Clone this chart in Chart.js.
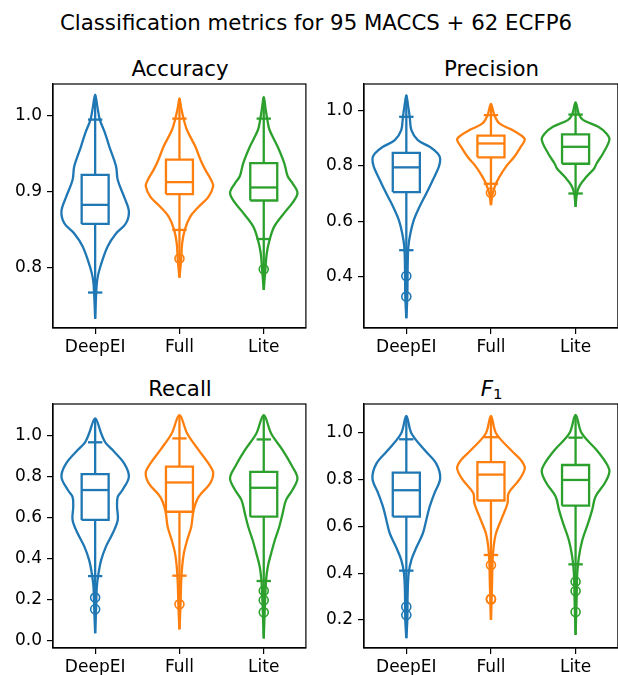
<!DOCTYPE html>
<html>
<head>
<meta charset="utf-8">
<script src="https://cdn.jsdelivr.net/npm/chart.js@4.4.1/dist/chart.umd.min.js"></script>
<style>
body{margin:0;width:618px;height:675px;overflow:hidden;background:#fff;position:relative;font-family:"DejaVu Sans";}
canvas{position:absolute;}
.t{position:absolute;font-size:21.3px;line-height:21.3px;text-align:center;color:#000;white-space:nowrap;}
</style>
</head>
<body>

<div class="t" style="left:0;width:632px;top:12px">Classification metrics for 95 MACCS + 62 ECFP6</div>
<div class="t" style="left:53px;width:254px;top:58px">Accuracy</div>
<div class="t" style="left:364px;width:255px;top:58px">Precision</div>
<div class="t" style="left:53px;width:254px;top:378px">Recall</div>
<div class="t" style="left:364px;width:255px;top:378px"><i>F</i><span style="font-size:0.7em;position:relative;top:0.2em">1</span></div>

<canvas id="acc" width="312" height="301" style="left:0;top:64px"></canvas>
<canvas id="prec" width="313" height="301" style="left:311px;top:64px"></canvas>
<canvas id="rec" width="312" height="301" style="left:0;top:384px"></canvas>
<canvas id="f1" width="313" height="301" style="left:311px;top:384px"></canvas>

<script>
const categories = ["DeepEI", "Full", "Lite"];
const colors = ["#1f77b4", "#ff7f0e", "#2ca02c"];

// accuracy
const accTicks = [0.8, 0.9, 1.0];
const accViolinY = [
  [0.733, 0.766, 0.784, 0.801, 0.828, 0.845, 0.858, 0.874, 0.893, 0.915, 0.933, 0.959, 0.977, 0.994, 1.010, 1.027],
  [0.787, 0.810, 0.832, 0.850, 0.867, 0.880, 0.893, 0.907, 0.915, 0.929, 0.942, 0.959, 0.981, 0.996, 1.010, 1.022],
  [0.771, 0.793, 0.819, 0.836, 0.854, 0.872, 0.885, 0.898, 0.911, 0.920, 0.937, 0.959, 0.981, 0.996, 1.010, 1.024]
];
const accViolinW = [
  [0, 0.03, 0.06, 0.15, 0.37, 0.62, 0.91, 1.0, 0.86, 0.67, 0.62, 0.42, 0.29, 0.14, 0.07, 0],
  [0, 0.05, 0.08, 0.16, 0.32, 0.57, 0.86, 1.0, 0.94, 0.76, 0.62, 0.47, 0.22, 0.12, 0.05, 0],
  [0, 0.04, 0.09, 0.17, 0.31, 0.61, 0.85, 1.0, 0.85, 0.71, 0.61, 0.41, 0.17, 0.10, 0.05, 0]
];
const accBox = [[0.8575, 0.8825, 0.9219], [0.8965, 0.9123, 0.9417], [0.8882, 0.9053, 0.9373]];
const accWhisk = [[0.7675, 0.9943], [0.8496, 0.9956], [0.8377, 0.9956]];
const accOut = [[], [0.812], [0.798]];

// precision
const precTicks = [0.4, 0.6, 0.8, 1.0];
const precViolinY = [
  [0.251, 0.329, 0.436, 0.508, 0.556, 0.604, 0.652, 0.700, 0.748, 0.796, 0.824, 0.844, 0.868, 0.892, 0.928, 0.976, 1.018, 1.054],
  [0.658, 0.700, 0.736, 0.760, 0.796, 0.832, 0.868, 0.894, 0.910, 0.928, 0.952, 0.982, 1.022],
  [0.652, 0.700, 0.730, 0.760, 0.790, 0.808, 0.844, 0.894, 0.916, 0.940, 0.964, 0.984, 1.028]
];
const precViolinW = [
  [0, 0.03, 0.04, 0.06, 0.12, 0.22, 0.39, 0.59, 0.78, 0.96, 1.0, 0.93, 0.69, 0.34, 0.15, 0.10, 0.05, 0],
  [0, 0.05, 0.15, 0.25, 0.44, 0.69, 0.88, 1.0, 0.88, 0.64, 0.25, 0.10, 0],
  [0, 0.04, 0.13, 0.32, 0.55, 0.62, 0.81, 1.0, 0.91, 0.67, 0.23, 0.10, 0]
];
const precBox = [[0.705, 0.794, 0.8465], [0.830, 0.880, 0.908], [0.807, 0.868, 0.9125]];
const precWhisk = [[0.496, 0.976], [0.735, 0.982], [0.700, 0.984]];
const precOut = [[0.403, 0.329], [0.703], []];

// recall
const recTicks = [0.0, 0.2, 0.4, 0.6, 0.8, 1.0];
const recViolinY = [
  [0.036, 0.166, 0.263, 0.329, 0.394, 0.459, 0.524, 0.589, 0.654, 0.702, 0.735, 0.800, 0.865, 0.930, 0.968, 1.011, 1.085],
  [0.055, 0.166, 0.280, 0.361, 0.426, 0.491, 0.556, 0.637, 0.702, 0.768, 0.820, 0.865, 0.930, 1.011, 1.101],
  [0.011, 0.198, 0.296, 0.361, 0.426, 0.491, 0.556, 0.621, 0.686, 0.735, 0.792, 0.849, 0.930, 1.011, 1.101]
];
const recViolinW = [
  [0, 0.03, 0.05, 0.10, 0.18, 0.32, 0.52, 0.67, 0.65, 0.67, 0.81, 1.0, 0.86, 0.52, 0.30, 0.18, 0],
  [0, 0.03, 0.05, 0.08, 0.13, 0.23, 0.35, 0.42, 0.57, 0.91, 1.0, 0.86, 0.57, 0.23, 0],
  [0, 0.04, 0.07, 0.12, 0.22, 0.33, 0.46, 0.56, 0.66, 0.85, 1.0, 0.85, 0.56, 0.22, 0]
];
const recBox = [[0.589, 0.735, 0.813], [0.629, 0.772, 0.849], [0.605, 0.746, 0.824]];
const recWhisk = [[0.315, 0.968], [0.317, 0.987], [0.291, 0.982]];
const recOut = [[0.210, 0.153], [0.177], [0.244, 0.197, 0.138]];

// f1
const f1Ticks = [0.2, 0.4, 0.6, 0.8, 1.0];
const f1ViolinY = [
  [0.122, 0.200, 0.314, 0.400, 0.457, 0.514, 0.571, 0.628, 0.685, 0.742, 0.806, 0.870, 0.927, 0.999, 1.073],
  [0.200, 0.343, 0.457, 0.514, 0.571, 0.642, 0.699, 0.742, 0.799, 0.849, 0.885, 0.927, 0.999, 1.073],
  [0.136, 0.286, 0.400, 0.471, 0.542, 0.614, 0.671, 0.728, 0.785, 0.835, 0.870, 0.927, 0.999, 1.077]
];
const f1ViolinW = [
  [0, 0.03, 0.04, 0.07, 0.15, 0.31, 0.49, 0.59, 0.69, 0.83, 1.0, 0.88, 0.54, 0.15, 0],
  [0, 0.03, 0.05, 0.08, 0.15, 0.34, 0.49, 0.52, 0.83, 1.0, 0.88, 0.59, 0.15, 0],
  [0, 0.03, 0.05, 0.10, 0.20, 0.37, 0.49, 0.59, 0.86, 1.0, 0.91, 0.62, 0.18, 0]
];
const f1Box = [[0.642, 0.755, 0.830], [0.711, 0.822, 0.875], [0.689, 0.799, 0.863]];
const f1Whisk = [[0.411, 0.973], [0.478, 0.982], [0.438, 0.980]];
const f1Out = [[0.257, 0.221], [0.435, 0.291, 0.288], [0.364, 0.324, 0.234]];

Chart.defaults.font.family = "DejaVu Sans";
Chart.defaults.color = "#000";

const VIOLIN_HALF = 0.4, BOX_HALF = 0.16, CAP_HALF = 0.085;

// top and right spines
const frame = {
  id: "frame",
  afterDraw(chart) {
    const a = chart.chartArea, ctx = chart.ctx;
    ctx.save();
    ctx.strokeStyle = "#000";
    ctx.lineWidth = 1.2;
    ctx.strokeRect(a.left, a.top, a.right - a.left, a.bottom - a.top);
    ctx.restore();
  }
};

function seg(pts, col, order, extra) {
  return Object.assign({
    data: pts, showLine: true, borderColor: col, borderWidth: 2.3,
    pointRadius: 0, tension: 0, fill: false, order: order
  }, extra || {});
}

function buildSets(vY, vW, box, whisk, outl) {
  const sets = [];
  for (let i = 0; i < 3; i++) {
    const c = i + 1, col = colors[i];
    const ys = vY[i], ws = vW[i], n = ys.length;
    const pts = [];
    for (let k = 0; k < n; k++) pts.push({x: c - ws[k] * VIOLIN_HALF, y: ys[k]});
    for (let k = n - 2; k >= 0; k--) pts.push({x: c + ws[k] * VIOLIN_HALF, y: ys[k]});
    sets.push(seg(pts, col, 6, {tension: 0.35}));
    sets.push(seg([{x: c, y: ys[0]}, {x: c, y: ys[n - 1]}], col, 5));
    const [q1, med, q3] = box[i];
    sets.push(seg([
      {x: c - BOX_HALF, y: q1}, {x: c + BOX_HALF, y: q1}, {x: c + BOX_HALF, y: q3},
      {x: c - BOX_HALF, y: q3}, {x: c - BOX_HALF, y: q1}
    ], col, 4, {fill: "shape", backgroundColor: "#fff"}));
    sets.push(seg([{x: c - BOX_HALF, y: med}, {x: c + BOX_HALF, y: med}], col, 3));
    sets.push(seg([{x: c - CAP_HALF, y: whisk[i][0]}, {x: c + CAP_HALF, y: whisk[i][0]}], col, 3));
    sets.push(seg([{x: c - CAP_HALF, y: whisk[i][1]}, {x: c + CAP_HALF, y: whisk[i][1]}], col, 3));
    if (outl[i].length) {
      sets.push({
        data: outl[i].map(v => ({x: c, y: v})), showLine: false,
        pointRadius: 4.5, pointStyle: "circle", pointBackgroundColor: "rgba(0,0,0,0)",
        pointBorderColor: col, pointBorderWidth: 1.6, order: 1
      });
    }
  }
  return sets;
}

function makeChart(id, ticks, yMin, yMax, vY, vW, box, whisk, outl) {
  return new Chart(document.getElementById(id), {
    type: "scatter",
    data: {datasets: buildSets(vY, vW, box, whisk, outl)},
    options: {
      responsive: false,
      animation: false,
      layout: {padding: {top: 20, left: 0, right: 0, bottom: 0}},
      plugins: {legend: {display: false}, tooltip: {enabled: false}, title: {display: false}},
      scales: {
        x: {
          type: "linear", min: 0.5, max: 3.5,
          afterBuildTicks: s => { s.ticks = categories.map((_, i) => ({value: i + 1})); },
          afterFit: s => { s.height = 37; },
          ticks: {callback: v => categories[v - 1], font: {size: 17}, padding: 3, maxRotation: 0, autoSkip: false},
          grid: {drawOnChartArea: false, tickLength: 6, color: "#000", lineWidth: 1.2},
          border: {color: "#000", width: 1.2}
        },
        y: {
          min: yMin, max: yMax,
          afterBuildTicks: s => { s.ticks = ticks.map(v => ({value: v})); },
          afterFit: s => { s.width = 53; },
          ticks: {callback: v => v.toFixed(1), font: {size: 17}, padding: 5},
          grid: {drawOnChartArea: false, tickLength: 6, color: "#000", lineWidth: 1.2},
          border: {color: "#000", width: 1.2}
        }
      }
    },
    plugins: [frame]
  });
}

makeChart("acc", accTicks, 0.721, 1.041, accViolinY, accViolinW, accBox, accWhisk, accOut);
makeChart("prec", precTicks, 0.216, 1.094, precViolinY, precViolinW, precBox, precWhisk, precOut);
makeChart("rec", recTicks, -0.036, 1.155, recViolinY, recViolinW, recBox, recWhisk, recOut);
makeChart("f1", f1Ticks, 0.080, 1.124, f1ViolinY, f1ViolinW, f1Box, f1Whisk, f1Out);
</script>
</body>
</html>
